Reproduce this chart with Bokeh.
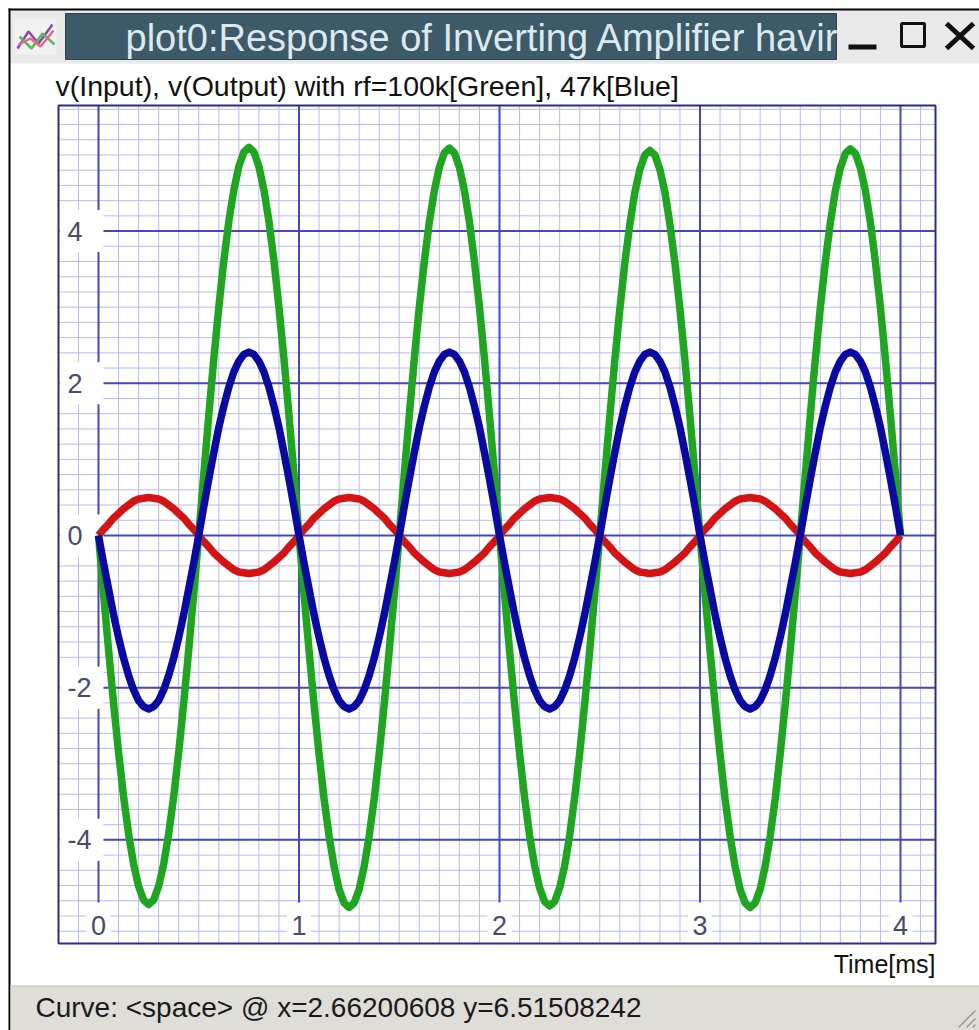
from bokeh.plotting import figure
from bokeh.models import Range1d
from bokeh.core.properties import value
from bokeh.embed import file_html
from bokeh.resources import INLINE

# ---------------- data ----------------
time_ms = [round(i * 0.025, 3) for i in range(161)]

v_input = [
    0.00, 0.08, 0.15, 0.23, 0.29, 0.35, 0.40, 0.45, 0.48, 0.49, 0.50, 0.49, 0.48, 0.45, 0.40, 0.35, 0.29, 0.23, 0.15, 0.08,
    0.00, -0.08, -0.15, -0.23, -0.29, -0.35, -0.40, -0.45, -0.48, -0.49, -0.50, -0.49, -0.48, -0.45, -0.40, -0.35, -0.29, -0.23, -0.15, -0.08,
    0.00, 0.08, 0.15, 0.23, 0.29, 0.35, 0.40, 0.45, 0.48, 0.49, 0.50, 0.49, 0.48, 0.45, 0.40, 0.35, 0.29, 0.23, 0.15, 0.08,
    0.00, -0.08, -0.15, -0.23, -0.29, -0.35, -0.40, -0.45, -0.48, -0.49, -0.50, -0.49, -0.48, -0.45, -0.40, -0.35, -0.29, -0.23, -0.15, -0.08,
    0.00, 0.08, 0.15, 0.23, 0.29, 0.35, 0.40, 0.45, 0.48, 0.49, 0.50, 0.49, 0.48, 0.45, 0.40, 0.35, 0.29, 0.23, 0.15, 0.08,
    0.00, -0.08, -0.15, -0.23, -0.29, -0.35, -0.40, -0.45, -0.48, -0.49, -0.50, -0.49, -0.48, -0.45, -0.40, -0.35, -0.29, -0.23, -0.15, -0.08,
    0.00, 0.08, 0.15, 0.23, 0.29, 0.35, 0.40, 0.45, 0.48, 0.49, 0.50, 0.49, 0.48, 0.45, 0.40, 0.35, 0.29, 0.23, 0.15, 0.08,
    0.00, -0.08, -0.15, -0.23, -0.29, -0.35, -0.40, -0.45, -0.48, -0.49, -0.50, -0.49, -0.48, -0.45, -0.40, -0.35, -0.29, -0.23, -0.15, -0.08,
    0.00,
]

v_out_100k = [
    0.00, -0.76, -1.50, -2.20, -2.85, -3.43, -3.92, -4.32, -4.61, -4.79, -4.85, -4.79, -4.61, -4.32, -3.92, -3.43, -2.85, -2.20, -1.50, -0.76,
    0.00, 0.80, 1.58, 2.32, 3.00, 3.61, 4.13, 4.54, 4.85, 5.04, 5.10, 5.04, 4.85, 4.54, 4.13, 3.61, 3.00, 2.32, 1.58, 0.80,
    0.00, -0.77, -1.51, -2.22, -2.87, -3.46, -3.95, -4.35, -4.65, -4.83, -4.89, -4.83, -4.65, -4.35, -3.95, -3.46, -2.87, -2.22, -1.51, -0.77,
    0.00, 0.80, 1.58, 2.32, 3.00, 3.60, 4.12, 4.53, 4.84, 5.03, 5.09, 5.03, 4.84, 4.53, 4.12, 3.60, 3.00, 2.32, 1.58, 0.80,
    0.00, -0.76, -1.51, -2.21, -2.86, -3.44, -3.94, -4.34, -4.63, -4.81, -4.87, -4.81, -4.63, -4.34, -3.94, -3.44, -2.86, -2.21, -1.51, -0.76,
    0.00, 0.79, 1.56, 2.30, 2.97, 3.58, 4.09, 4.51, 4.81, 5.00, 5.06, 5.00, 4.81, 4.51, 4.09, 3.58, 2.97, 2.30, 1.56, 0.79,
    0.00, -0.77, -1.51, -2.22, -2.87, -3.46, -3.95, -4.35, -4.65, -4.83, -4.89, -4.83, -4.65, -4.35, -3.95, -3.46, -2.87, -2.22, -1.51, -0.77,
    0.00, 0.79, 1.57, 2.31, 2.99, 3.59, 4.11, 4.53, 4.83, 5.02, 5.08, 5.02, 4.83, 4.53, 4.11, 3.59, 2.99, 2.31, 1.57, 0.79,
    0.00,
]

v_out_47k = [
    0.00, -0.36, -0.70, -1.04, -1.34, -1.61, -1.84, -2.03, -2.17, -2.25, -2.28, -2.25, -2.17, -2.03, -1.84, -1.61, -1.34, -1.04, -0.70, -0.36,
    0.00, 0.38, 0.74, 1.09, 1.42, 1.70, 1.95, 2.15, 2.29, 2.38, 2.41, 2.38, 2.29, 2.15, 1.95, 1.70, 1.42, 1.09, 0.74, 0.38,
    0.00, -0.36, -0.70, -1.04, -1.34, -1.61, -1.84, -2.03, -2.17, -2.25, -2.28, -2.25, -2.17, -2.03, -1.84, -1.61, -1.34, -1.04, -0.70, -0.36,
    0.00, 0.38, 0.74, 1.09, 1.42, 1.70, 1.95, 2.15, 2.29, 2.38, 2.41, 2.38, 2.29, 2.15, 1.95, 1.70, 1.42, 1.09, 0.74, 0.38,
    0.00, -0.36, -0.70, -1.04, -1.34, -1.61, -1.84, -2.03, -2.17, -2.25, -2.28, -2.25, -2.17, -2.03, -1.84, -1.61, -1.34, -1.04, -0.70, -0.36,
    0.00, 0.38, 0.74, 1.09, 1.42, 1.70, 1.95, 2.15, 2.29, 2.38, 2.41, 2.38, 2.29, 2.15, 1.95, 1.70, 1.42, 1.09, 0.74, 0.38,
    0.00, -0.36, -0.70, -1.04, -1.34, -1.61, -1.84, -2.03, -2.17, -2.25, -2.28, -2.25, -2.17, -2.03, -1.84, -1.61, -1.34, -1.04, -0.70, -0.36,
    0.00, 0.38, 0.74, 1.09, 1.42, 1.70, 1.95, 2.15, 2.29, 2.38, 2.41, 2.38, 2.29, 2.15, 1.95, 1.70, 1.42, 1.09, 0.74, 0.38,
    0.00,
]

x_major = [0, 1, 2, 3, 4]
x_major_labels = ["0", "1", "2", "3", "4"]
y_major = [-4, -2, 0, 2, 4]
y_major_labels = ["-4", "-2", "0", "2", "4"]
x_minor = [round(-0.1 + 0.1 * i, 2) for i in range(43)]
y_minor = [round(-5.2 + 0.2 * i, 2) for i in range(55)]

window_title = "plot0:Response of Inverting Amplifier havir"
subtitle = "v(Input), v(Output) with rf=100k[Green], 47k[Blue]"
x_label = "Time[ms]"
status_text = "Curve: <space> @ x=2.66200608  y=6.51508242"

# ---------------- figure: frame covers the whole window picture ----------------
W, H = 979, 1030
# data ranges chosen so that the plot box sits where the window draws it
X_START, X_END = -0.4888, 4.394
Y_START, Y_END = -6.505, 7.030
# plot box limits (data units)
BX0, BX1 = -0.1995, 4.1746
BY0, BY1 = -5.361, 5.650

p = figure(width=W, height=H, output_backend="svg", toolbar_location=None, title=None,
           x_range=Range1d(X_START, X_END), y_range=Range1d(Y_START, Y_END),
           x_axis_type=None, y_axis_type=None,
           min_border_left=0, min_border_right=0, min_border_top=0, min_border_bottom=0)
p.extra_x_ranges = {"px": Range1d(0, W)}
p.extra_y_ranges = {"px": Range1d(H, 0)}
p.background_fill_color = "white"
p.border_fill_color = "white"
p.outline_line_color = None
p.center = []

FONT = value("Liberation Sans")
PX = dict(x_range_name="px", y_range_name="px")

# ---- plot area ----
MINOR = "#b9b9f3"
MAJOR = "#4646c0"
p.segment(x0=x_minor, y0=[BY0] * len(x_minor), x1=x_minor, y1=[BY1] * len(x_minor),
          line_color=MINOR, line_width=1)
p.segment(x0=[BX0] * len(y_minor), y0=y_minor, x1=[BX1] * len(y_minor), y1=y_minor,
          line_color=MINOR, line_width=1)
p.segment(x0=x_major, y0=[BY0] * len(x_major), x1=x_major, y1=[BY1] * len(x_major),
          line_color=MAJOR, line_width=2)
p.segment(x0=[BX0] * len(y_major), y0=y_major, x1=[BX1] * len(y_major), y1=y_major,
          line_color=MAJOR, line_width=2)

YLAB_X = -0.085
XLAB_Y = -5.10
p.rect(x=[YLAB_X] * len(y_major), y=y_major, width=44, height=42,
       width_units="screen", height_units="screen", fill_color="white", line_color=None)
p.rect(x=x_major, y=[XLAB_Y] * len(x_major), width=24, height=42,
       width_units="screen", height_units="screen", fill_color="white", line_color=None)
p.quad(left=[BX0], right=[BX1], bottom=[BY0], top=[BY1], fill_color=None,
       line_color="#2c2c86", line_width=2)
p.text(x=[-0.1546] * len(y_major), y=y_major, text=y_major_labels, text_align="left",
       text_baseline="middle", text_font=FONT, text_font_size="27px", text_color="#4a4a6c")
p.text(x=x_major, y=[-5.125] * len(x_major), text=x_major_labels, text_align="center",
       text_baseline="middle", text_font=FONT, text_font_size="27px", text_color="#4a4a6c")

p.line(time_ms, v_input, line_color="#d41414", line_width=7.5, line_join="round")
p.line(time_ms, v_out_100k, line_color="#1fa51f", line_width=7.5, line_join="round")
p.line(time_ms, v_out_47k, line_color="#0a0aa0", line_width=7.5, line_join="round")

# ---- window chrome (pixel range) ----
def box(l, r, t, b, fill, line=None, lw=1):
    p.quad(left=[l], right=[r], top=[t], bottom=[b], fill_color=fill,
           line_color=line, line_width=lw, **PX)

def txt(x, y, s, size, color="#111111", align="left"):
    p.text(x=[x], y=[y], text=[s], text_align=align, text_baseline="middle",
           text_font=FONT, text_font_size=size, text_color=color, **PX)

# title bar
box(10, W, 10, 63, "#e9e9e9")
box(65, 836, 13, 59, "#3c5a68", "#2b4250", 1)
txt(125, 37, window_title, "38px", "#dde9ef")
box(837, 847, 11, 61, "#e9e9e9")
# buttons
box(848, 876, 44, 49, "#111111")
box(901, 924, 23, 46, None, "#111111", 3)
p.segment(x0=[946, 973], y0=[23, 23], x1=[973, 946], y1=[48, 48], line_color="#111111",
          line_width=5, **PX)
# icon
box(14, 56, 18, 54, "#f1f1f1")
p.multi_line(xs=[[17, 28, 38, 52], [19, 31, 42, 54], [18, 30, 40, 53]],
             ys=[[48, 31, 43, 24], [36, 48, 33, 44], [44, 38, 46, 30]],
             line_color=["#8a4aa8", "#5ab85a", "#e06a8a"], line_width=2.5, **PX)
# window border
box(8, 10, 8, H, "#000000")
box(8, W, 8, 10, "#000000")

# subtitle and axis label
txt(55, 85, subtitle, "28.5px")
txt(935, 963, x_label, "25px", align="right")

# status bar
box(10, W, 985, H, "#dfddd7")
box(10, W, 985, 986, "#c9c7c1")
txt(35, 1007, status_text, "28px", "#1a1a1a")
p.segment(x0=[958, 966, 972], y0=[1027, 1027, 1027], x1=[975, 975, 975], y1=[1010, 1018, 1024],
          line_color="#9a9890", line_width=1.5, **PX)

open("out.html", "w").write(file_html(p, INLINE))
